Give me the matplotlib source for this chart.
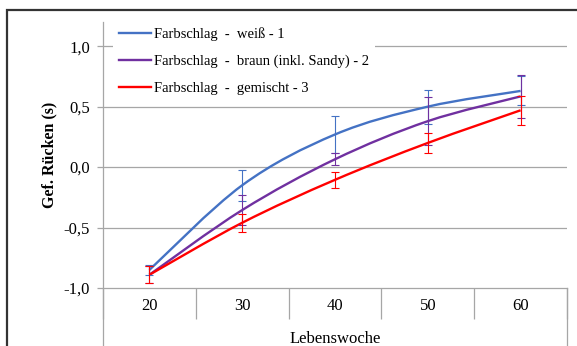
import matplotlib.pyplot as plt
from matplotlib.path import Path
from matplotlib.patches import PathPatch, Rectangle
from matplotlib.lines import Line2D
from matplotlib.ticker import FuncFormatter

plt.rcParams['font.family'] = 'Liberation Serif'

weeks = [20, 30, 40, 50, 60]
labels = ['Farbschlag  -  weiß - 1',
          'Farbschlag  -  braun (inkl. Sandy) - 2',
          'Farbschlag  -  gemischt - 3']
colors = ['#4472C4', '#7030A0', '#FF0000']

weiss = [-0.85, -0.15, 0.27, 0.50, 0.63]
weiss_err = [0.04, 0.13, 0.15, 0.14, 0.12]
braun = [-0.89, -0.355, 0.065, 0.38, 0.585]
braun_err = [0.07, 0.125, 0.05, 0.20, 0.18]
gemischt = [-0.89, -0.46, -0.105, 0.20, 0.47]
gemischt_err = [0.07, 0.073, 0.065, 0.082, 0.12]

series = [(weiss, weiss_err), (braun, braun_err), (gemischt, gemischt_err)]


def smooth_path(xs, ys):
    # excel-like smoothed line as cubic bezier segments
    pts = list(zip(xs, ys))
    verts = [pts[0]]
    codes = [Path.MOVETO]
    for i in range(len(pts) - 1):
        p0 = pts[i - 1] if i > 0 else pts[i]
        p1 = pts[i]
        p2 = pts[i + 1]
        p3 = pts[i + 2] if i + 2 < len(pts) else pts[i + 1]
        c1 = (p1[0] + (p2[0] - p0[0]) / 6, p1[1] + (p2[1] - p0[1]) / 6)
        c2 = (p2[0] - (p3[0] - p1[0]) / 6, p2[1] - (p3[1] - p1[1]) / 6)
        verts += [c1, c2, p2]
        codes += [Path.CURVE4] * 3
    return Path(verts, codes)


fig = plt.figure(figsize=(5.77, 3.46), dpi=100)
ax = fig.add_axes([103 / 577, 0, 464 / 577, 324 / 346])

grid = '#A6A6A6'
for (m, e), c, lab in zip(series, colors, labels):
    ax.add_patch(PathPatch(smooth_path(weeks, m), fill=False, edgecolor=c,
                           lw=1.7, zorder=3))
    ax.errorbar(weeks, m, yerr=e, fmt='none', ecolor=c, elinewidth=0.8,
                capsize=3, capthick=0.8, zorder=4)

ax.set_xlim(15, 65)
ax.set_ylim(-1.479, 1.2)
ax.set_yticks([-1.0, -0.5, 0.0, 0.5, 1.0])
ax.yaxis.set_major_formatter(FuncFormatter(lambda v, p: f'{v:.1f}'.replace('.', ',')))
for v in [-0.5, 0.0, 0.5, 1.0]:
    ax.axhline(v, color=grid, lw=0.9, zorder=1)

ax.set_xticks(weeks)
ax.set_xticks([15, 25, 35, 45, 55, 65], minor=True)
ax.tick_params(axis='x', which='major', length=0, pad=7, labelsize=12)
ax.tick_params(axis='x', which='minor', length=22, width=0.9, color=grid, direction='out')
ax.tick_params(axis='y', length=4, width=0.9, color=grid, pad=5.5, labelsize=12)

ax.spines['top'].set_visible(False)
ax.spines['bottom'].set_position(('data', -1.0))
ax.spines['right'].set_bounds(-1.479, -1.0)
for s in ['left', 'right', 'bottom']:
    ax.spines[s].set_color(grid)
    ax.spines[s].set_linewidth(0.9)

ax.set_xlabel('Lebenswoche', fontsize=12, va='baseline')
ax.xaxis.set_label_coords(0.5, 0.01)
ax.set_ylabel('Gef. Rücken (s)', fontsize=11.5, fontweight='bold', va='center')
ax.yaxis.set_label_coords(-0.116, 0.589)

handles = [Line2D([], [], color=c, lw=1.7) for c in colors]
leg = ax.legend(handles, labels, loc='upper left', bbox_to_anchor=(113 / 577, 1 - 21 / 346),
                bbox_transform=fig.transFigure, borderaxespad=0, fontsize=10.5,
                frameon=True, fancybox=False, edgecolor='none', facecolor='white',
                framealpha=1, handlelength=2.2, handletextpad=0.2, labelspacing=0.95,
                borderpad=0.4)
leg.set_zorder(5)

fig.patches.append(Rectangle((7 / 577, -0.1), 1.2, 1 - 10 / 346 + 0.1, transform=fig.transFigure,
                             fill=False, edgecolor='#333333', lw=1.6))

fig.savefig('out.png', dpi=100)
